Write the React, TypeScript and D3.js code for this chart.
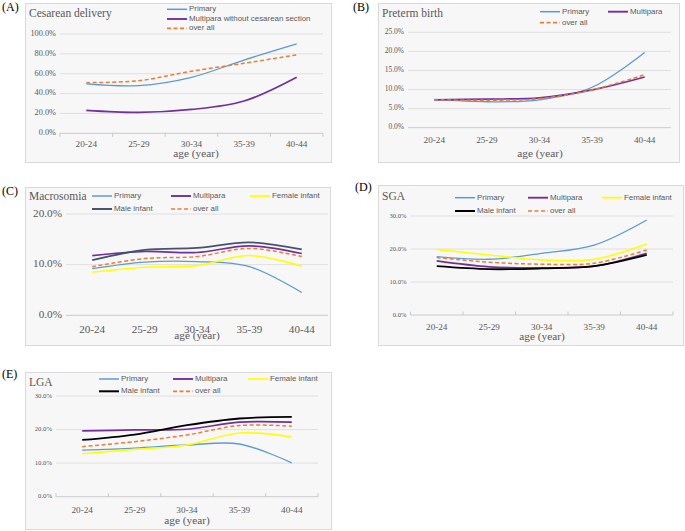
import * as d3 from "d3";

const ages = ["20-24", "25-29", "30-34", "35-39", "40-44"];

// (A) Cesarean delivery
const cesPrimary = [49.7, 48.0, 56.4, 73.8, 90.0];
const cesMultipara = [23.0, 21.0, 24.0, 32.5, 56.4];
const cesOverall = [51.0, 53.0, 62.5, 70.5, 79.0];

// (B) Preterm birth
const ptPrimary = [7.4, 6.8, 7.3, 10.6, 19.7];
const ptMultipara = [7.3, 7.5, 7.8, 9.9, 13.3];
const ptOverall = [7.3, 7.2, 7.6, 9.9, 13.9];

// (C) Macrosomia
const macPrimary = [9.2, 10.5, 10.6, 9.6, 4.5];
const macMultipara = [11.8, 12.6, 12.4, 13.7, 12.2];
const macFemale = [8.5, 9.5, 9.8, 11.8, 9.7];
const macMale = [10.9, 12.9, 13.3, 14.4, 13.0];
const macOverall = [9.6, 11.2, 11.6, 13.2, 11.6];

// (D) SGA
const sgaPrimary = [17.7, 16.9, 18.7, 21.2, 28.8];
const sgaMultipara = [16.4, 14.6, 14.3, 14.8, 18.7];
const sgaFemale = [19.9, 18.2, 16.7, 16.9, 21.5];
const sgaMale = [14.8, 13.9, 14.1, 14.8, 18.2];
const sgaOverall = [17.4, 16.0, 15.4, 15.7, 19.7];

// (E) LGA
const lgaPrimary = [13.9, 14.5, 15.4, 15.7, 10.1];
const lgaMultipara = [19.6, 19.9, 20.1, 22.2, 22.2];
const lgaFemale = [12.8, 14.1, 15.4, 19.0, 17.8];
const lgaMale = [16.9, 18.5, 21.3, 23.3, 23.8];
const lgaOverall = [14.9, 16.4, 18.4, 21.2, 21.0];

const BLUE = "#5B9BD5";
const PURPLE = "#7030A0";
const YELLOW = "#FFFF00";
const ORANGE = "#ED7D31";

const serif = "'Liberation Serif', 'Times New Roman', serif";
const sans = "'Liberation Sans', Arial, sans-serif";

type Series = { name: string; values: number[]; color: string; width: number; dash?: string };

type PanelDef = {
  tag: string;
  tagX: number;
  tagY: number;
  title: string;
  box: [number, number, number, number];
  xr: [number, number];
  yr: [number, number];
  max: number;
  step: number;
  tickSize: number;
  catSize: number;
  catY: number;
  axisY: number;
  axisX: number;
  tickMarks: number;
  series: Series[];
  legend: [number, number][];
};

const panels: PanelDef[] = [
  {
    tag: "(A)", tagX: 2, tagY: 11, title: "Cesarean delivery",
    box: [25, 3, 331, 162], xr: [60, 323], yr: [133.3, 34], max: 100, step: 20,
    tickSize: 8.3, catSize: 9.2, catY: 147, axisY: 157, axisX: 196, tickMarks: 3.5,
    series: [
      { name: "Primary", values: cesPrimary, color: BLUE, width: 1.3 },
      { name: "Multipara without cesarean section", values: cesMultipara, color: PURPLE, width: 1.7 },
      { name: "over all", values: cesOverall, color: ORANGE, width: 1.5, dash: "4 2.5" },
    ],
    legend: [[167, 9.3], [167, 19], [167, 28.3]],
  },
  {
    tag: "(B)", tagX: 353, tagY: 11, title: "Preterm birth",
    box: [378, 3, 679, 162], xr: [408, 671], yr: [127.7, 32.3], max: 25, step: 5,
    tickSize: 7.5, catSize: 9.2, catY: 142.5, axisY: 156.5, axisX: 540, tickMarks: 0,
    series: [
      { name: "Primary", values: ptPrimary, color: BLUE, width: 1.3 },
      { name: "Multipara", values: ptMultipara, color: PURPLE, width: 1.7 },
      { name: "over all", values: ptOverall, color: ORANGE, width: 1.5, dash: "4 2.5" },
    ],
    legend: [[540, 11.7], [608, 11.7], [540, 22.7]],
  },
  {
    tag: "(C)", tagX: 2, tagY: 195, title: "Macrosomia",
    box: [25, 187, 330, 345], xr: [66, 328], yr: [315.3, 214], max: 20, step: 10,
    tickSize: 11.2, catSize: 11.1, catY: 333, axisY: 338.5, axisX: 197, tickMarks: 0,
    series: [
      { name: "Primary", values: macPrimary, color: BLUE, width: 1.3 },
      { name: "Multipara", values: macMultipara, color: PURPLE, width: 1.7 },
      { name: "Female infant", values: macFemale, color: YELLOW, width: 1.6 },
      { name: "Male infant", values: macMale, color: "#44546A", width: 1.8 },
      { name: "over all", values: macOverall, color: ORANGE, width: 1.5, dash: "4 2.5" },
    ],
    legend: [[92, 196], [171, 196], [250, 196], [92, 209], [171, 209]],
  },
  {
    tag: "(D)", tagX: 355, tagY: 191, title: "SGA",
    box: [378, 185, 683, 345], xr: [410.5, 673], yr: [315, 216], max: 30, step: 10,
    tickSize: 6.6, catSize: 9.2, catY: 329.5, axisY: 339.5, axisX: 542, tickMarks: -3.5,
    series: [
      { name: "Primary", values: sgaPrimary, color: BLUE, width: 1.3 },
      { name: "Multipara", values: sgaMultipara, color: PURPLE, width: 1.7 },
      { name: "Female infant", values: sgaFemale, color: YELLOW, width: 1.6 },
      { name: "Male infant", values: sgaMale, color: "#000000", width: 1.8 },
      { name: "over all", values: sgaOverall, color: ORANGE, width: 1.5, dash: "4 2.5" },
    ],
    legend: [[455, 197.7], [528, 197.7], [602, 197.7], [455, 211], [528, 211]],
  },
  {
    tag: "(E)", tagX: 2, tagY: 378, title: "LGA",
    box: [25, 372, 331, 529], xr: [56, 318], yr: [496.7, 396], max: 30, step: 10,
    tickSize: 6.7, catSize: 9.2, catY: 512.5, axisY: 523.5, axisX: 187, tickMarks: -3.5,
    series: [
      { name: "Primary", values: lgaPrimary, color: BLUE, width: 1.3 },
      { name: "Multipara", values: lgaMultipara, color: PURPLE, width: 1.7 },
      { name: "Female infant", values: lgaFemale, color: YELLOW, width: 1.6 },
      { name: "Male infant", values: lgaMale, color: "#000000", width: 1.8 },
      { name: "over all", values: lgaOverall, color: ORANGE, width: 1.5, dash: "4 2.5" },
    ],
    legend: [[99, 379], [173, 379], [248, 379], [99, 391.3], [173, 391.3]],
  },
];

function Panel({ p }: { p: PanelDef }) {
  const x = d3.scaleBand().domain(ages).range(p.xr);
  const y = d3.scaleLinear().domain([0, p.max]).range(p.yr);
  const cx = (i: number) => (x(ages[i]) as number) + x.bandwidth() / 2;
  const line = d3
    .line<number>()
    .x((_, i) => cx(i))
    .y((d) => y(d))
    .curve(d3.curveCatmullRom.alpha(0.5));
  const ticks = d3.range(0, p.max + 0.001, p.step);
  const [bx0, by0, bx1, by1] = p.box;

  return (
    <g>
      <text x={p.tagX} y={p.tagY} fontFamily={serif} fontSize={12} fill="#000">
        {p.tag}
      </text>
      <rect x={bx0 + 0.5} y={by0 + 0.5} width={bx1 - bx0} height={by1 - by0} fill="#F7F7F7" stroke="#D9D9D9" />
      <text x={bx0 + 4} y={p.tag === "(C)" || p.tag === "(D)" ? 200 : by0 + 14} fontFamily={serif} fontSize={11.5} fill="#595959">
        {p.title}
      </text>
      {ticks.map((t) => (
        <g key={t}>
          <line
            x1={p.xr[0]}
            x2={p.xr[1]}
            y1={y(t)}
            y2={y(t)}
            stroke={t === 0 ? "#BFBFBF" : "#D9D9D9"}
            strokeWidth={0.8}
          />
          <text
            x={p.xr[0] - 4}
            y={y(t)}
            textAnchor="end"
            dominantBaseline="middle"
            fontFamily={serif}
            fontSize={p.tickSize}
            fill="#595959"
          >
            {t.toFixed(1) + "%"}
          </text>
        </g>
      ))}
      {p.tickMarks !== 0 &&
        d3.range(ages.length + 1).map((i) => {
          const tx = p.xr[0] + i * x.bandwidth();
          return (
            <line key={i} x1={tx} x2={tx} y1={y(0)} y2={y(0) + p.tickMarks} stroke="#BFBFBF" strokeWidth={0.8} />
          );
        })}
      {ages.map((a, i) => (
        <text key={a} x={cx(i)} y={p.catY} textAnchor="middle" fontFamily={serif} fontSize={p.catSize} fill="#595959">
          {a}
        </text>
      ))}
      <text x={p.axisX} y={p.axisY} textAnchor="middle" fontFamily={serif} fontSize={11.3} fill="#595959">
        age (year)
      </text>
      {p.series.map((s) => (
        <path
          key={s.name}
          d={line(s.values) as string}
          fill="none"
          stroke={s.color}
          strokeWidth={s.width}
          strokeDasharray={s.dash}
        />
      ))}
      {p.series.map((s, i) => {
        const [lx, ly] = p.legend[i];
        return (
          <g key={"lg" + s.name}>
            <line x1={lx} x2={lx + 20} y1={ly} y2={ly} stroke={s.color} strokeWidth={s.width + 0.2} strokeDasharray={s.dash} />
            <text x={lx + 22} y={ly} dominantBaseline="middle" fontFamily={sans} fontSize={7.9} fill="#595959">
              {s.name}
            </text>
          </g>
        );
      })}
    </g>
  );
}

export default function App() {
  return (
    <div style={{ position: "absolute", left: 0, top: 0 }}>
      <svg width={685} height={531} style={{ display: "block", background: "#fff" }}>
        {panels.map((p) => (
          <Panel key={p.tag} p={p} />
        ))}
      </svg>
    </div>
  );
}
